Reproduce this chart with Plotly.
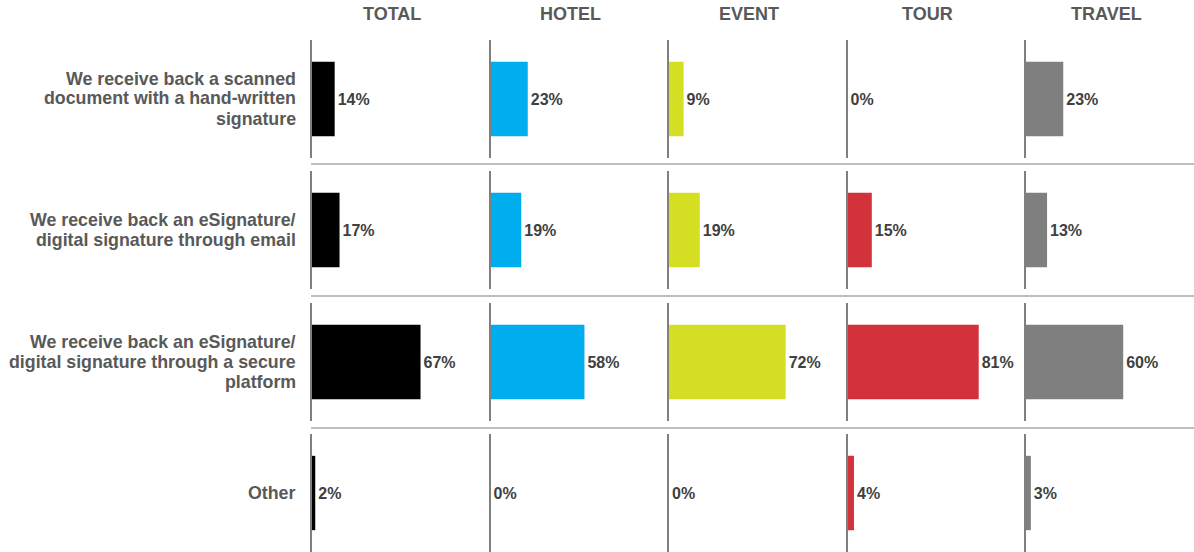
import plotly.graph_objects as go

# ---- data ----
categories = [
    "We receive back a scanned<br>document with a hand-written<br>signature",
    "We receive back an eSignature/<br>digital signature through email",
    "We receive back an eSignature/<br>digital signature through a secure<br>platform",
    "Other",
]
segments = ["TOTAL", "HOTEL", "EVENT", "TOUR", "TRAVEL"]
total = [14, 17, 67, 2]
hotel = [23, 19, 58, 0]
event = [9, 19, 72, 0]
tour = [0, 15, 81, 4]
travel = [23, 13, 60, 3]
series = [total, hotel, event, tour, travel]
colors = ["#000000", "#00AEEF", "#D4DF24", "#D2323A", "#7F7F7F"]

# ---- layout geometry (pixels) ----
W, H = 1194, 552
col_left0, col_step, col_w = 312, 178.5, 160
px_per_unit = 1.62  # pixels per percent
row_tops = [40, 171, 303, 434]
row_h = 118
sep_ys = [164, 296, 428]

FONT = "Liberation Sans, Arial, sans-serif"

fig = go.Figure()
layout = dict(
    width=W, height=H, autosize=False,
    margin=dict(l=0, r=0, t=0, b=0),
    paper_bgcolor="white", plot_bgcolor="white",
    showlegend=False,
    bargap=0.37,
    font=dict(family=FONT),
)

annotations = []
shapes = []

for r, cat in enumerate(categories):
    y0 = 1 - (row_tops[r] + row_h) / H
    y1 = 1 - row_tops[r] / H
    for c, seg in enumerate(segments):
        idx = r * 5 + c + 1
        sfx = "" if idx == 1 else str(idx)
        x0 = (col_left0 + col_step * c) / W
        x1 = (col_left0 + col_step * c + col_w) / W
        val = series[c][r]
        fig.add_trace(go.Bar(
            x=[val], y=[cat], orientation="h",
            marker=dict(color=colors[c], line=dict(width=0)),
            text=[f"{val}%"], textposition="outside",
            textfont=dict(family=FONT, size=16, color="#404040", weight="bold"),
            cliponaxis=False, constraintext="none",
            xaxis="x" + sfx, yaxis="y" + sfx,
            hoverinfo="skip",
        ))
        layout["xaxis" + sfx] = dict(
            domain=[x0, x1], range=[0, col_w / px_per_unit],
            showgrid=False, zeroline=False, showticklabels=False, showline=False,
            ticks="", anchor="y" + sfx, fixedrange=True,
        )
        layout["yaxis" + sfx] = dict(
            domain=[y0, y1], showgrid=False, zeroline=False, showticklabels=False,
            showline=True, linecolor="#7F7F7F", linewidth=2, ticks="",
            anchor="x" + sfx, fixedrange=True,
        )

# column titles
for c, seg in enumerate(segments):
    cx = (col_left0 + col_step * c + col_w / 2) / W
    annotations.append(dict(
        x=cx, y=1 - 14 / H, xref="paper", yref="paper", text=f"<b>{seg}</b>",
        showarrow=False, xanchor="center", yanchor="middle",
        font=dict(family=FONT, size=18, color="#595959"),
    ))

# row labels (each line placed with tight spacing)
line_sp = 20
for r, cat in enumerate(categories):
    lines = cat.split("<br>")
    cy = row_tops[r] + row_h / 2 - 0.5
    n = len(lines)
    for i, ln in enumerate(lines):
        py = cy + (i - (n - 1) / 2) * line_sp
        annotations.append(dict(
            x=297 / W, y=1 - py / H, xref="paper", yref="paper", text=f"<b>{ln}</b>",
            showarrow=False, xanchor="right", yanchor="middle",
            borderpad=0,
            font=dict(family=FONT, size=17.8, color="#595959"),
        ))

# separators
for sy in sep_ys:
    shapes.append(dict(
        type="line", xref="paper", yref="paper",
        x0=311 / W, x1=1, y0=1 - sy / H, y1=1 - sy / H,
        line=dict(color="#BFBFBF", width=2),
    ))

layout["annotations"] = annotations
layout["shapes"] = shapes
fig.update_layout(**layout)
fig.write_html(
    "out.html",
    config={"displayModeBar": False},
    post_script="document.body.style.margin='0';",
)
